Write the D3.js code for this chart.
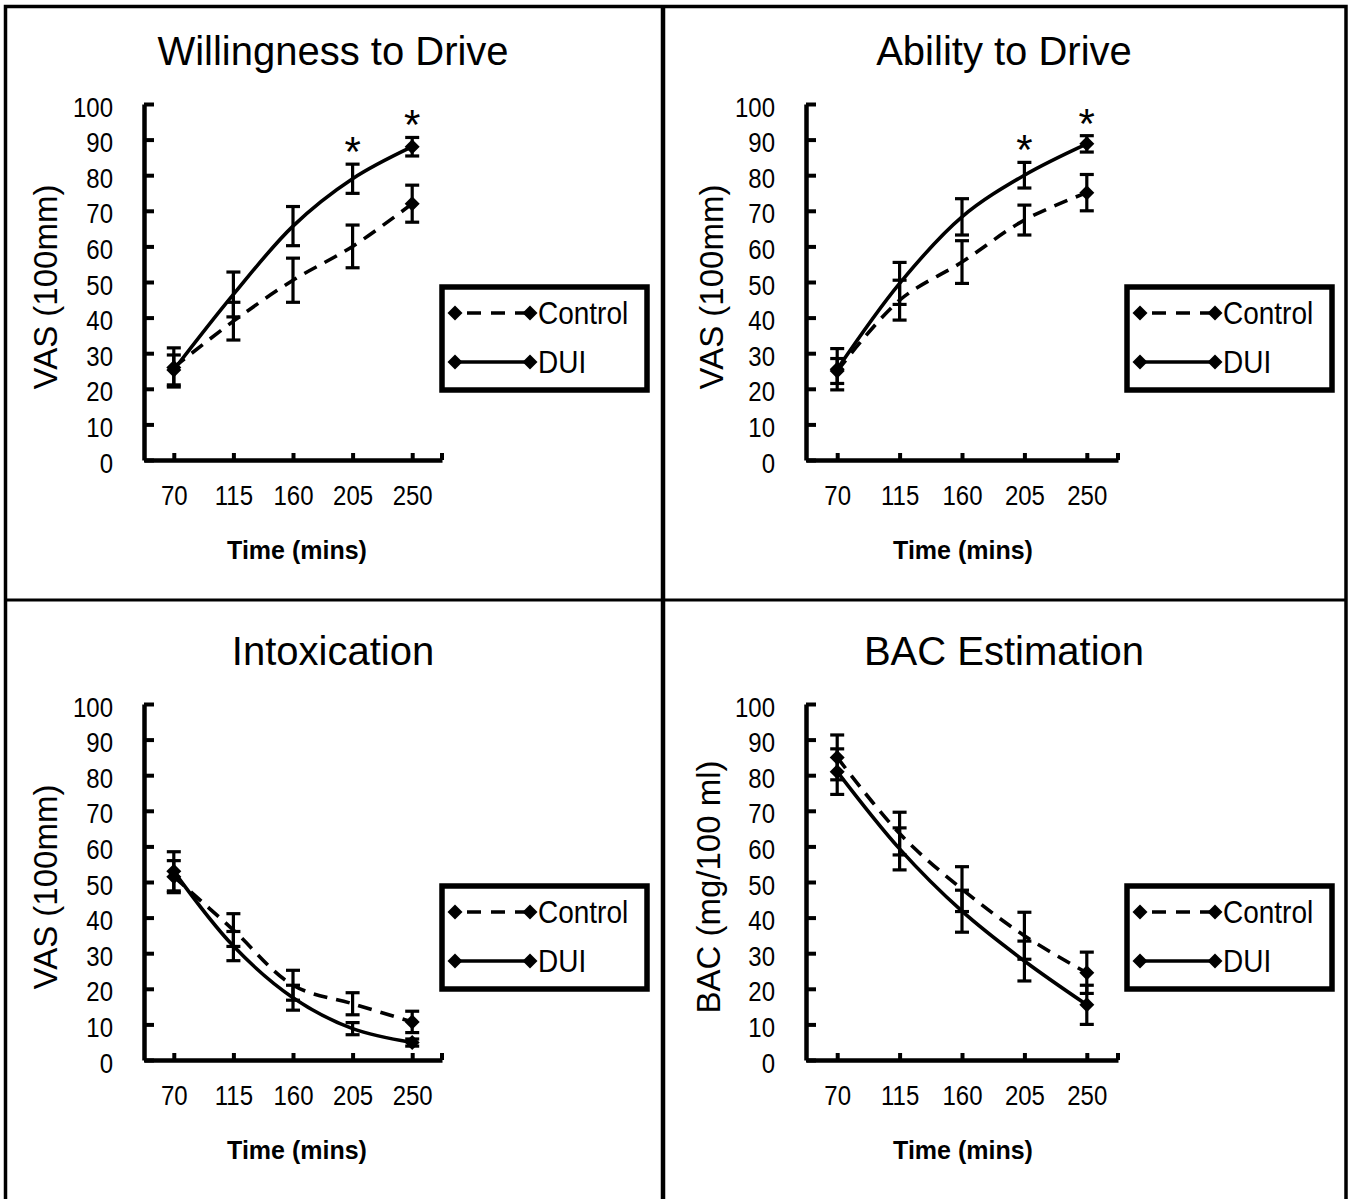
<!DOCTYPE html>
<html>
<head>
<meta charset="utf-8">
<script src="https://cdn.jsdelivr.net/npm/d3@7"></script>
<style>
  body { margin: 0; background: #fff; }
  svg text { font-family: "Liberation Sans", Arial, sans-serif; fill: #000; }
</style>
</head>
<body>
<svg id="plotCanvas" width="1351" height="1199"></svg>
<script>
// categories and ticks
var times = ["70", "115", "160", "205", "250"];
var yTickVals = [0, 10, 20, 30, 40, 50, 60, 70, 80, 90, 100];
var seriesNames = ["Control", "DUI"];

// Willingness to Drive
var willCtrl = [26, 39, 50.5, 60, 72];
var willCtrlErr = [5.5, 5.3, 6.2, 6, 5.2];
var willDui = [25.3, 46.5, 65.7, 79, 88];
var willDuiErr = [4.2, 6.3, 5.5, 4.1, 2.6];
var willStars = ["205", "250"];

// Ability to Drive
var ablCtrl = [25, 44.9, 55.6, 67.4, 75.1];
var ablCtrlErr = [3.5, 5.6, 6, 4.2, 5.1];
var ablDui = [25.5, 49.6, 68.3, 80, 88.8];
var ablDuiErr = [5.8, 5.9, 5.1, 3.6, 2.3];
var ablStars = ["205", "250"];

// Intoxication
var intCtrl = [51.5, 36.5, 21, 15.8, 10.7];
var intCtrlErr = [4.5, 4.6, 4.2, 3.1, 3];
var intDui = [53, 32, 17.5, 8.8, 4.9];
var intDuiErr = [5.5, 4.1, 3.5, 1.7, 1];

// BAC Estimation
var bacCtrl = [85, 63.6, 48, 34.9, 24.5];
var bacCtrlErr = [6.3, 6, 6.3, 6.6, 5.8];
var bacDui = [81, 59.3, 41.8, 27.8, 15.5];
var bacDuiErr = [6.4, 5.9, 5.9, 5.6, 5.5];

var canvas = d3.select("#plotCanvas");
var stretch = "scale(1,1.15)";   // the picture's small text is a bit taller than plain Arial

// outer frame and dividers
canvas.append("rect")
    .attr("x", 5.5).attr("y", 6.5)
    .attr("width", 1340.5).attr("height", 1200)
    .attr("fill", "none").attr("stroke", "#000").attr("stroke-width", 3.5);
canvas.append("line")
    .attr("x1", 663).attr("x2", 663).attr("y1", 6).attr("y2", 1199)
    .attr("stroke", "#000").attr("stroke-width", 4.5);
canvas.append("line")
    .attr("x1", 5).attr("x2", 1347).attr("y1", 600).attr("y2", 600)
    .attr("stroke", "#000").attr("stroke-width", 3);

var panels = [
    {title: "Willingness to Drive", ylab: "VAS (100mm)", ctrl: willCtrl, ctrlErr: willCtrlErr,
     dui: willDui, duiErr: willDuiErr, stars: willStars,
     x0: 144, x1: 442, yBot: 460, yTop: 104, titleX: 333, ylabX: 45, legX: 442, legY: 287, timeX: 297},
    {title: "Ability to Drive", ylab: "VAS (100mm)", ctrl: ablCtrl, ctrlErr: ablCtrlErr,
     dui: ablDui, duiErr: ablDuiErr, stars: ablStars,
     x0: 806, x1: 1118, yBot: 460, yTop: 104, titleX: 1004, ylabX: 711, legX: 1127, legY: 287, timeX: 963},
    {title: "Intoxication", ylab: "VAS (100mm)", ctrl: intCtrl, ctrlErr: intCtrlErr,
     dui: intDui, duiErr: intDuiErr, stars: [],
     x0: 144, x1: 442, yBot: 1060, yTop: 704, titleX: 333, ylabX: 45, legX: 442, legY: 886, timeX: 297},
    {title: "BAC Estimation", ylab: "BAC (mg/100 ml)", ctrl: bacCtrl, ctrlErr: bacCtrlErr,
     dui: bacDui, duiErr: bacDuiErr, stars: [],
     x0: 806, x1: 1118, yBot: 1060, yTop: 704, titleX: 1004, ylabX: 708, legX: 1127, legY: 886, timeX: 963}
];

function diamond(r)
{
    return "M0," + (-r) + "L" + r + ",0L0," + r + "L" + (-r) + ",0Z";
}

panels.forEach(function(p)
{
    var g = canvas.append("g");
    var x = d3.scalePoint().domain(times).range([p.x0, p.x1]).padding(0.5);
    var y = d3.scaleLinear().domain([0, 100]).range([p.yBot, p.yTop]);

    // title
    g.append("text")
        .attr("x", p.titleX).attr("y", p.yTop - 39)
        .attr("text-anchor", "middle")
        .attr("font-size", "40px")
        .text(p.title);

    // y axis title
    g.append("text")
        .attr("transform", "translate(" + p.ylabX + "," + ((p.yTop + p.yBot) / 2 + 5) + ") rotate(-90)")
        .attr("text-anchor", "middle")
        .attr("dy", "0.35em")
        .attr("font-size", "33px")
        .text(p.ylab);

    // x axis title
    g.append("text")
        .attr("x", p.timeX).attr("y", p.yBot + 99)
        .attr("text-anchor", "middle")
        .attr("font-weight", "bold")
        .attr("font-size", "25px")
        .text("Time (mins)");

    // y axis
    var yAxis = g.append("g")
        .attr("transform", "translate(" + p.x0 + ",0)")
        .call(d3.axisLeft(y).tickValues(yTickVals).tickSize(-10).tickSizeOuter(0).tickPadding(31));
    yAxis.selectAll("text").attr("font-size", "24px").attr("font-family", null)
        .attr("dy", "0.44em").attr("transform", stretch);
    yAxis.selectAll("line").attr("stroke", "#000").attr("stroke-width", 4);
    yAxis.select(".domain").attr("stroke", "#000").attr("stroke-width", 4.5);

    // x axis
    var xAxis = g.append("g")
        .attr("transform", "translate(0," + p.yBot + ")")
        .call(d3.axisBottom(x).tickSize(-7).tickSizeOuter(0).tickPadding(22));
    xAxis.selectAll("text").attr("font-size", "24px").attr("font-family", null).attr("transform", stretch);
    xAxis.selectAll("line").attr("stroke", "#000").attr("stroke-width", 4);
    xAxis.select(".domain").attr("stroke", "#000").attr("stroke-width", 4.5);
    xAxis.append("line")
        .attr("x1", p.x1).attr("x2", p.x1).attr("y1", 0).attr("y2", -7)
        .attr("stroke", "#000").attr("stroke-width", 4);

    var series = [
        {vals: p.ctrl, errs: p.ctrlErr, dash: "14,9"},
        {vals: p.dui, errs: p.duiErr, dash: null}
    ];

    series.forEach(function(s)
    {
        var pts = times.map(function(t, i) { return {t: t, v: s.vals[i], e: s.errs[i]}; });

        var line = d3.line()
            .x(function(d) { return x(d.t); })
            .y(function(d) { return y(d.v); })
            .curve(d3.curveCatmullRom.alpha(0.5));

        g.append("path")
            .datum(pts)
            .attr("d", line)
            .attr("fill", "none")
            .attr("stroke", "#000")
            .attr("stroke-width", 3.6)
            .attr("stroke-dasharray", s.dash);

        // error bars
        var eb = g.append("g").selectAll("g").data(pts).enter().append("g");
        eb.append("line")
            .attr("x1", function(d) { return x(d.t); })
            .attr("x2", function(d) { return x(d.t); })
            .attr("y1", function(d) { return y(d.v + d.e); })
            .attr("y2", function(d) { return y(d.v - d.e); })
            .attr("stroke", "#000").attr("stroke-width", 3.2);
        [1, -1].forEach(function(sign)
        {
            eb.append("line")
                .attr("x1", function(d) { return x(d.t) - 7; })
                .attr("x2", function(d) { return x(d.t) + 7; })
                .attr("y1", function(d) { return y(d.v + sign * d.e); })
                .attr("y2", function(d) { return y(d.v + sign * d.e); })
                .attr("stroke", "#000").attr("stroke-width", 3.2);
        });

        // markers at the end points
        g.selectAll(null).data([pts[0], pts[pts.length - 1]]).enter()
            .append("path")
            .attr("transform", function(d) { return "translate(" + x(d.t) + "," + y(d.v) + ")"; })
            .attr("d", diamond(7.5))
            .attr("fill", "#000");
    });

    // significance stars above the DUI error bars
    g.selectAll(null).data(p.stars).enter()
        .append("text")
        .attr("x", function(t) { return x(t); })
        .attr("y", function(t) {
            var i = times.indexOf(t);
            return y(p.dui[i] + p.duiErr[i]) + 2;
        })
        .attr("text-anchor", "middle")
        .attr("font-size", "42px")
        .text("*");

    // legend
    var leg = g.append("g").attr("transform", "translate(" + p.legX + "," + p.legY + ")");
    leg.append("rect")
        .attr("x", 0).attr("y", 0)
        .attr("width", 205).attr("height", 103)
        .attr("fill", "#fff").attr("stroke", "#000").attr("stroke-width", 5.5);
    seriesNames.forEach(function(name, i)
    {
        var ly = 26 + i * 49;
        leg.append("line")
            .attr("x1", 13).attr("x2", 88).attr("y1", ly).attr("y2", ly)
            .attr("stroke", "#000").attr("stroke-width", 3.4)
            .attr("stroke-dasharray", i == 0 ? "14,10" : null)
            .attr("stroke-dashoffset", i == 0 ? -12 : 0);
        [13, 88].forEach(function(mx)
        {
            leg.append("path")
                .attr("transform", "translate(" + mx + "," + ly + ")")
                .attr("d", diamond(7.5))
                .attr("fill", "#000");
        });
        leg.append("text")
            .attr("transform", "translate(96," + (ly + 11) + ") " + stretch)
            .attr("font-size", "28px")
            .text(name);
    });
});
</script>
</body>
</html>
